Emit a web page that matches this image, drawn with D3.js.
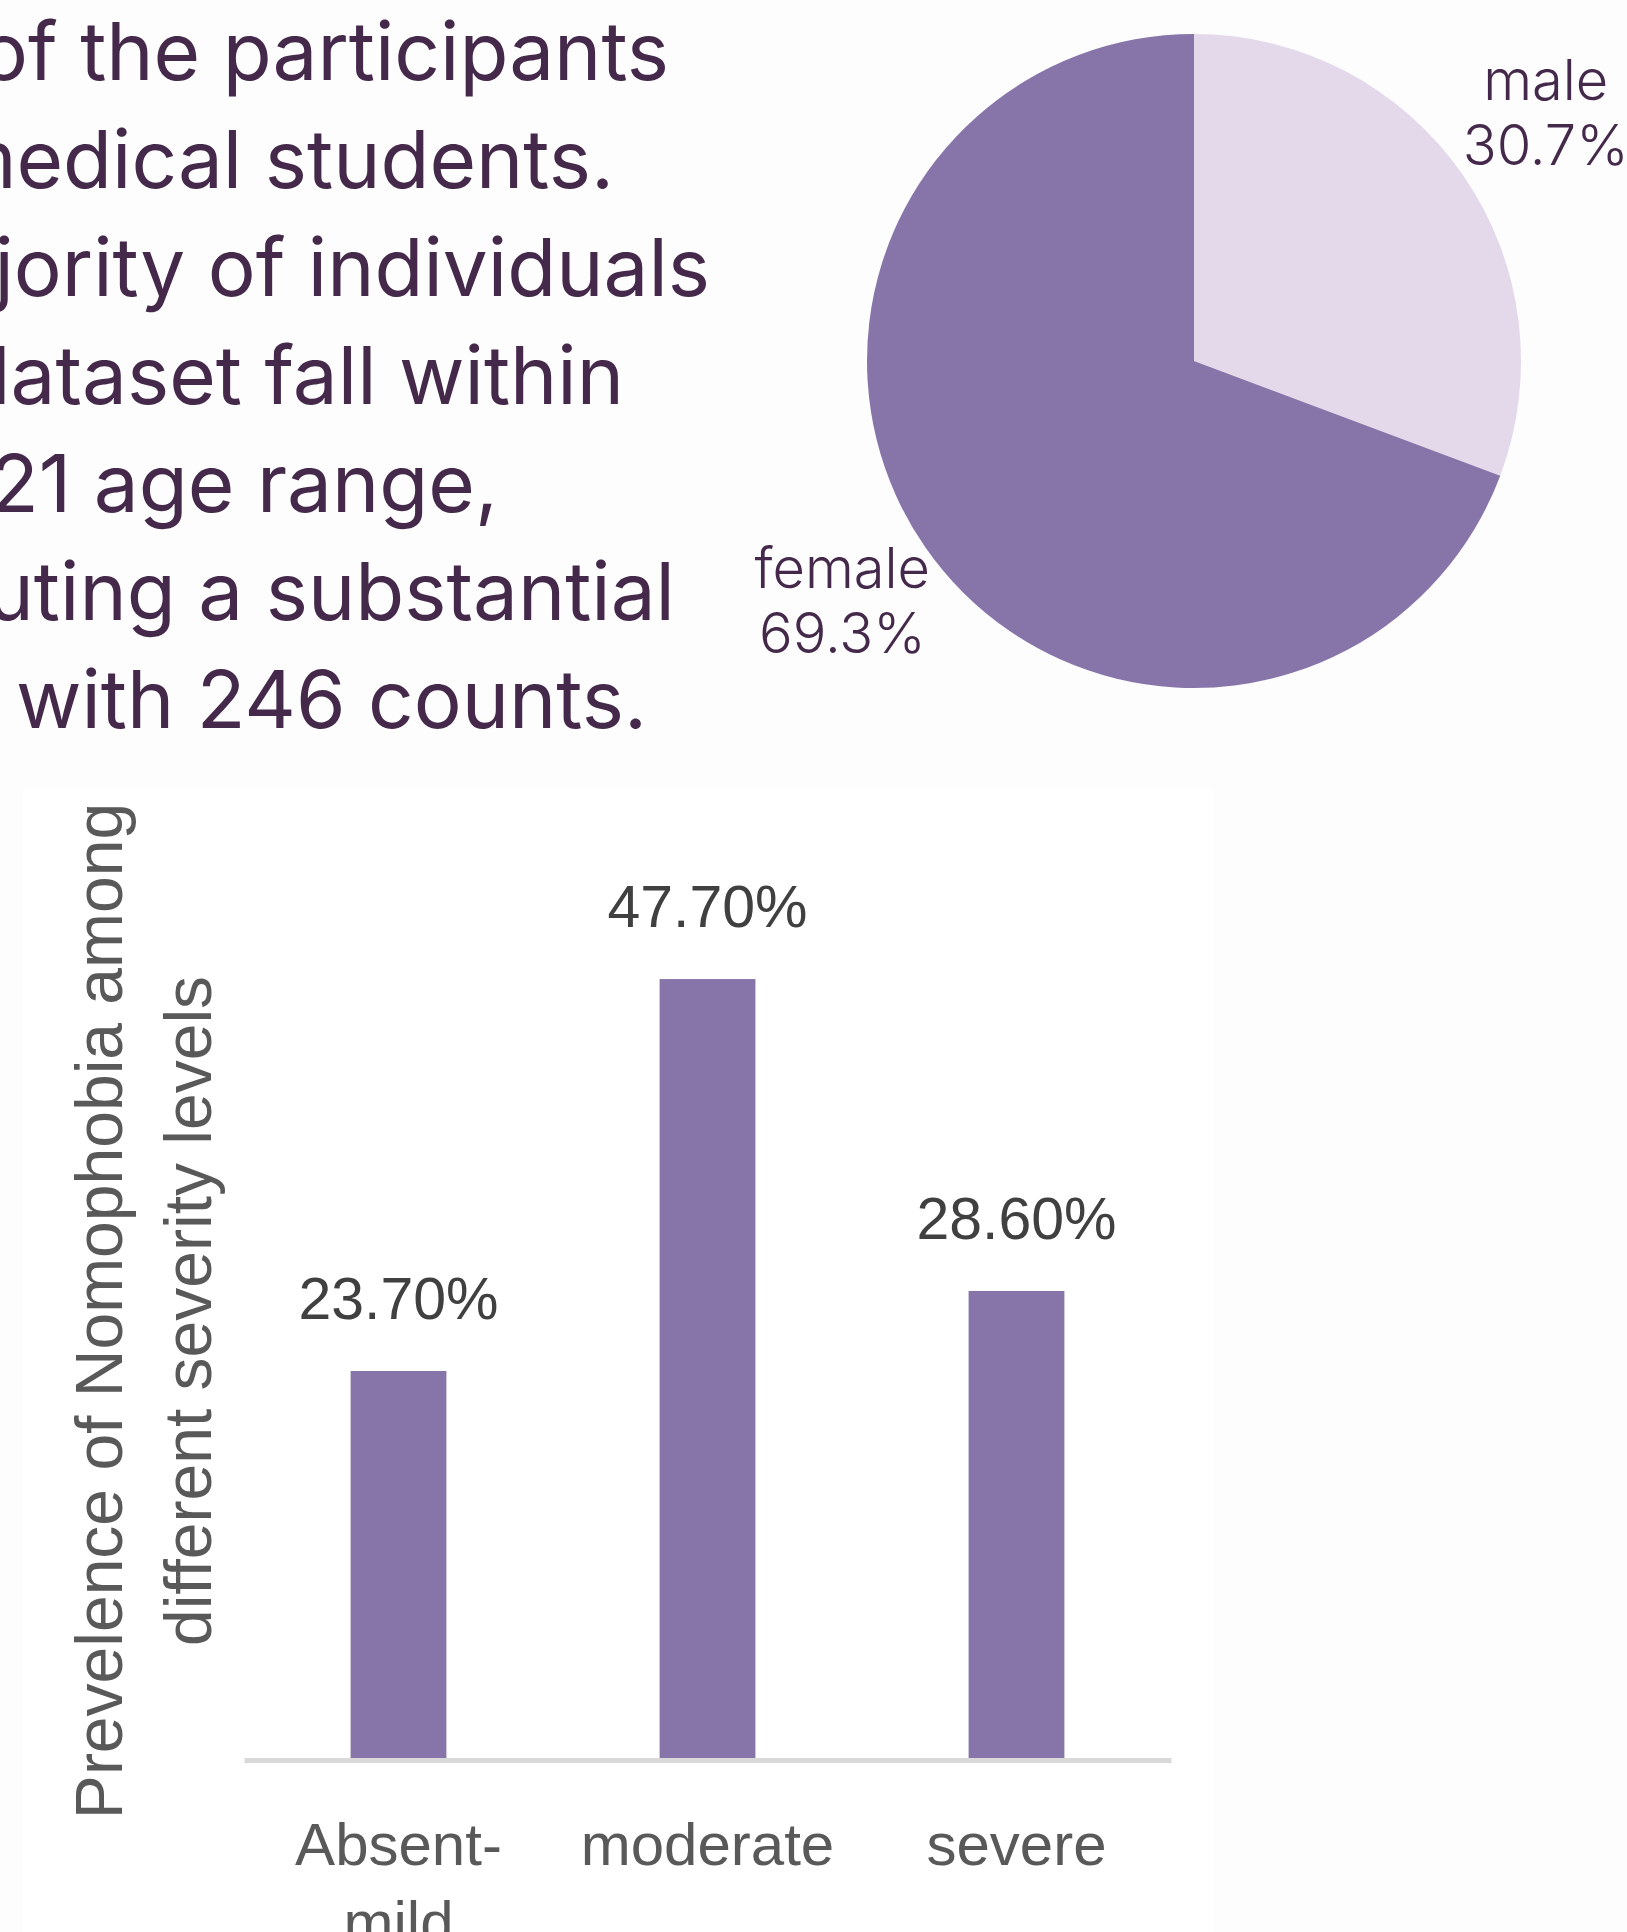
<!DOCTYPE html>
<html lang='en'>
<head>
    <meta charset='UTF-8'>
    <title>Nomophobia among medical students</title>
    <script src='https://d3js.org/d3.v7.min.js'></script>
    <style>
      body { margin: 0; background: #fdfdfe; }
      svg { display: block; }
    </style>
</head>
<body>
<div id='viz'></div>

<script>
// paragraph lines (the slide is cropped at the left, so each line starts off-canvas)
const noteLines = ['of the participants', 'medical students.', 'majority of individuals',
  'dataset fall within', '18-21 age range,', 'constituting a substantial', 'portion with 246 counts.']
const noteRight = [669, 614, 710, 624, 498, 675, 647]   // right end of each line

// gender split
const genders = ['male', 'female']
const genderShare = [30.7, 69.3]

// severity levels
const levels = ['Absent-mild', 'moderate', 'severe']
const prevalence = [23.7, 47.7, 28.6]
const yTitle = ['Prevelence of Nomophobia among', 'different severity levels']

const ink = '#45294b'
const barPurple = '#8775aa'
const malePurple = '#e4d9ea'

const svg = d3.select('#viz').append('svg')
    .attr('width', 1627)
    .attr('height', 1932)

// white panel behind the bar chart
svg.append('rect')
    .attr('x', 23).attr('y', 788)
    .attr('width', 1190).attr('height', 1144)
    .attr('fill', '#ffffff')

// ---- text block ----
svg.append('g')
  .selectAll('text')
  .data(noteLines)
  .join('text')
    .attr('x', (d, i) => noteRight[i])
    .attr('y', (d, i) => 80 + i * 108)
    .attr('text-anchor', 'end')
    .style('font-family', 'Inter, sans-serif')
    .style('font-size', '80px')
    .style('fill', ink)
    .text(d => d)

// ---- pie ----
const pieData = genders.map((g, i) => ({ name: g, value: genderShare[i] }))
const pie = d3.pie().sort(null).value(d => d.value)
const arc = d3.arc().innerRadius(0).outerRadius(327)
const labelArc = d3.arc().innerRadius(428).outerRadius(428)

const pieG = svg.append('g').attr('transform', 'translate(1194,361)')

pieG.selectAll('path')
  .data(pie(pieData))
  .join('path')
    .attr('d', arc)
    .attr('fill', d => d.data.name === 'male' ? malePurple : barPurple)

const pieLabels = pieG.selectAll('text')
  .data(pie(pieData))
  .join('text')
    .attr('transform', d => `translate(${labelArc.centroid(d)})`)
    .attr('text-anchor', 'middle')
    .style('font-family', 'Inter, sans-serif')
    .style('font-weight', 300)
    .style('font-size', '56px')
    .style('fill', ink)

pieLabels.append('tspan').attr('x', 0).attr('y', -17).text(d => d.data.name)
pieLabels.append('tspan').attr('x', 0).attr('y', 48).text(d => d.data.value.toFixed(1) + '%')

// ---- bar chart ----
const x = d3.scaleBand()
    .domain(levels)
    .range([244, 1171])
    .paddingInner(0.69)
    .paddingOuter(0.345)

const y = d3.scaleLinear()
    .domain([0, 50])
    .range([1758, 941.5])

const barData = levels.map((l, i) => ({ level: l, value: prevalence[i] }))

svg.append('g')
  .selectAll('rect')
  .data(barData)
  .join('rect')
    .attr('x', d => x(d.level))
    .attr('y', d => y(d.value))
    .attr('width', x.bandwidth())
    .attr('height', d => y(0) - y(d.value))
    .attr('fill', barPurple)

svg.append('g')
  .selectAll('text')
  .data(barData)
  .join('text')
    .attr('x', d => x(d.level) + x.bandwidth() / 2)
    .attr('y', d => y(d.value) - 52)
    .attr('text-anchor', 'middle')
    .style('font-family', "'Liberation Sans', Arial, sans-serif")
    .style('font-size', '59px')
    .style('fill', '#404040')
    .text(d => d.value.toFixed(2) + '%')

const xAxis = svg.append('g')
    .attr('transform', 'translate(0,1760)')
    .call(d3.axisBottom(x).tickSize(0).tickPadding(62).tickFormat(''))

xAxis.select('.domain')
    .attr('stroke', '#d9d9d9')
    .attr('stroke-width', 5)

// category labels, wrapped at the hyphen like the original
xAxis.selectAll('.tick text').remove()
xAxis.selectAll('.tick')
  .append('text')
    .attr('text-anchor', 'middle')
    .attr('y', 105)
    .style('font-family', "'Liberation Sans', Arial, sans-serif")
    .style('font-size', '60px')
    .style('fill', '#595959')
  .each(function(d) {
    const parts = d.includes('-') ? [d.split('-')[0] + '-', d.split('-')[1]] : [d]
    d3.select(this).selectAll('tspan')
      .data(parts)
      .join('tspan')
        .attr('x', 0)
        .attr('dy', (p, i) => i === 0 ? 0 : 78)
        .text(p => p)
  })

// rotated y title
svg.append('g')
    .attr('transform', 'translate(0,1311) rotate(-90)')
  .selectAll('text')
  .data(yTitle)
  .join('text')
    .attr('x', 0)
    .attr('y', (d, i) => 122 + i * 89)
    .attr('text-anchor', 'middle')
    .style('font-family', "'Liberation Sans', Arial, sans-serif")
    .style('font-size', '66px')
    .style('fill', '#595959')
    .text(d => d)
</script>
</body>
</html>
